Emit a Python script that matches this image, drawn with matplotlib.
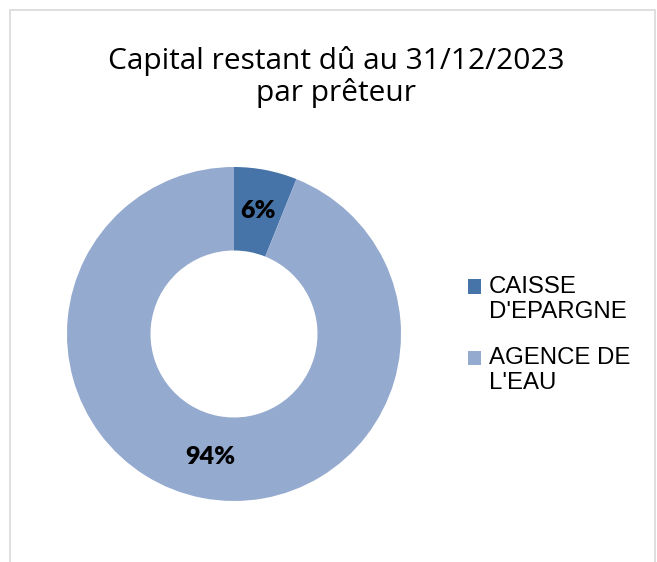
import matplotlib.pyplot as plt
from matplotlib.patches import Rectangle
from matplotlib.legend_handler import HandlerPatch

# Capital restant dû par prêteur (en %)
preteurs = ["CAISSE\nD'EPARGNE", "AGENCE DE\nL'EAU"]
parts = [6.1, 93.9]
couleurs = ["#4674A9", "#95AACF"]


class CarreHaut(HandlerPatch):
    # carré de légende aligné sur la première ligne du texte
    def create_artists(self, legend, orig_handle, xdescent, ydescent,
                       width, height, fontsize, trans):
        p = Rectangle((-xdescent, -ydescent + 0.54 * fontsize), width, height)
        self.update_prop(p, orig_handle, legend)
        p.set_transform(trans)
        return [p]


fig = plt.figure(figsize=(6.57, 5.62), dpi=100)

# cadre du graphique
fig.patches.append(Rectangle((9.5 / 657, -0.01), 645.5 / 657, (552 / 562) + 0.01,
                             transform=fig.transFigure, fill=False,
                             edgecolor="#D9D9D9", linewidth=1.2))

fig.text(336 / 657, 1 - 77 / 562, "Capital restant dû au 31/12/2023\npar prêteur",
         ha="center", va="center", fontsize=21.5, family="Open Sans",
         linespacing=1.05)

ax = fig.add_axes([67 / 657, 61 / 562, 334 / 657, 334 / 562])
wedges, textes, autotextes = ax.pie(
    parts, colors=couleurs, startangle=90, counterclock=False,
    autopct=lambda p: f"{p:.0f}%", pctdistance=0.75,
    wedgeprops=dict(width=0.5, linewidth=0),
    textprops=dict(fontsize=18, fontweight="heavy", family="Lato"))
ax.set_xlim(-1, 1)
ax.set_ylim(-1, 1)
ax.set_aspect("equal")

fig.legend(wedges, preteurs, loc="upper left",
           bbox_to_anchor=(446 / 657, 1 - 254 / 562),
           frameon=False, handlelength=0.55, handleheight=0.55,
           handletextpad=0.35, labelspacing=1.0,
           handler_map={w: CarreHaut() for w in wedges},
           prop=dict(family="Liberation Sans", size=17.3))

plt.savefig("out.png", dpi=100)
